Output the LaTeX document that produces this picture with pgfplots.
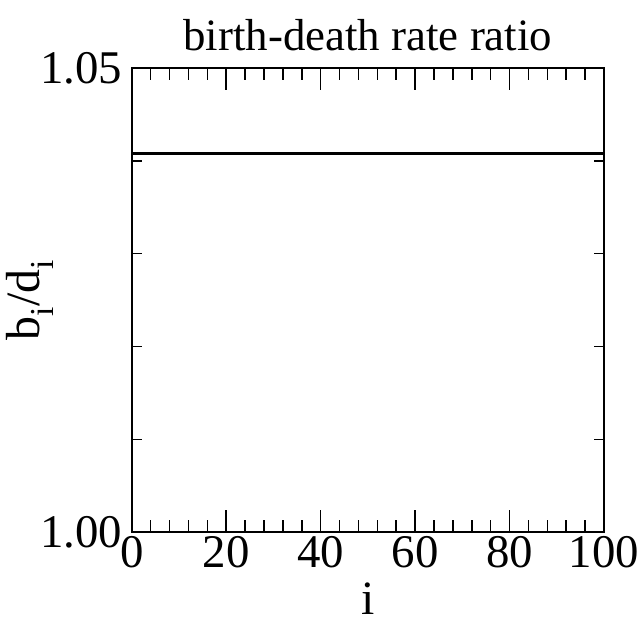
\documentclass[border=0pt]{standalone}
\usepackage{fontspec}
\setmainfont{Liberation Serif}
\usepackage{pgfplots}
\pgfplotsset{compat=1.18}

\begin{document}
\begin{tikzpicture}
\begin{axis}[
    name=ax,
    scale only axis,
    width=472bp, height=464bp,
    xmin=0, xmax=100,
    ymin=1.00, ymax=1.05,
    xtick={0,20,...,100},
    minor x tick num=4,
    ytick={1.00,1.01,1.02,1.03,1.04,1.05},
    yticklabels={1.00,,,,,1.05},
    tick align=inside,
    major tick length=22bp,
    minor tick length=12bp,
    y tick style={/pgfplots/major tick length=10bp},
    tick style={black, line width=1.5bp},
    axis line style={line width=2bp},
    /pgf/number format/assume math mode=true,
    ticklabel style={font=\fontsize{47}{50}\selectfont},
    xticklabel style={yshift=-1bp},
    yticklabel style={xshift=-6bp},
    title={birth-death rate ratio},
    title style={font=\fontsize{45}{48}\selectfont, yshift=8bp},
    xlabel={i},
    ylabel={b\textsubscript{i}/d\textsubscript{i}},
    label style={font=\fontsize{48}{50}\selectfont},
    xlabel style={yshift=-8bp},
    ylabel style={yshift=-20bp},
]
\addplot[black, line width=3bp] coordinates {(0,1.0408) (100,1.0408)};
\end{axis}
\pgfresetboundingbox
\path ([shift={(-131.7bp,-99.3bp)}]ax.south west) rectangle ([shift={(38bp,68bp)}]ax.north east);
\end{tikzpicture}
\end{document}
